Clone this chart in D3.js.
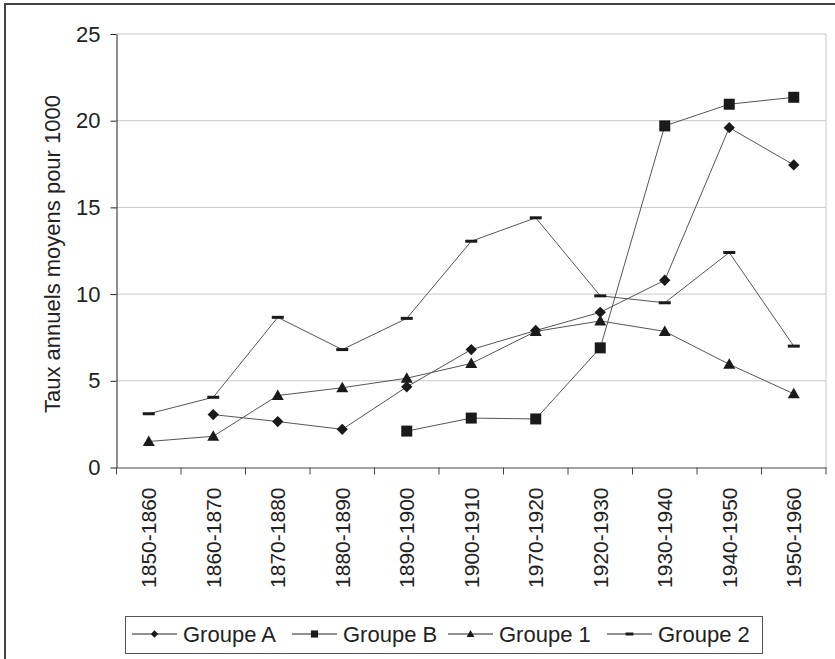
<!DOCTYPE html>
<html lang="fr">
<head>
<meta charset="UTF-8">
<title>Taux annuels moyens</title>
<style>
  body { margin: 0; background: #fff; }
  svg { display: block; font-family: "Liberation Sans", Arial, sans-serif; }
</style>
</head>
<body>
<svg id="chart" width="835" height="659"></svg>
<script src="https://cdn.jsdelivr.net/npm/d3@7"></script>
<script>
  // data
  let periods = ["1850-1860","1860-1870","1870-1880","1880-1890","1890-1900","1900-1910",
                 "1970-1920","1920-1930","1930-1940","1940-1950","1950-1960"];
  let groupeA = [null, 3.05, 2.65, 2.2, 4.65, 6.8, 7.9, 8.95, 10.8, 19.6, 17.45];
  let groupeB = [null, null, null, null, 2.1, 2.85, 2.8, 6.9, 19.7, 20.95, 21.35];
  let groupe1 = [1.5, 1.8, 4.15, 4.6, 5.15, 6.0, 7.85, 8.45, 7.85, 5.95, 4.25];
  let groupe2 = [3.1, 4.05, 8.66, 6.8, 8.6, 13.05, 14.4, 9.9, 9.5, 12.4, 7.0];
  let yTicks = [0, 5, 10, 15, 20, 25];
  let seriesNames = ["Groupe A", "Groupe B", "Groupe 1", "Groupe 2"];

  let series = [
    {name: seriesNames[0], values: groupeA, mark: "diamond"},
    {name: seriesNames[1], values: groupeB, mark: "square"},
    {name: seriesNames[2], values: groupe1, mark: "triangle"},
    {name: seriesNames[3], values: groupe2, mark: "dash"}
  ];

  let svg = d3.select("#chart");
  let plotL = 116.5, plotR = 826, plotT = 34, plotB = 467.5;

  // outer frame (right and bottom edges fall outside the picture)
  svg.append("rect")
    .attr("x", 5).attr("y", 4)
    .attr("width", 900).attr("height", 700)
    .attr("fill", "none").attr("stroke", "#444").attr("stroke-width", 2);

  let x = d3.scaleBand().domain(periods).range([plotL, plotR]);
  let y = d3.scaleLinear().domain([0, 25]).range([plotB, plotT]);

  // grid
  svg.append("g").selectAll("line")
    .data(yTicks.filter(d => d > 0))
    .join("line")
    .attr("x1", plotL).attr("x2", plotR)
    .attr("y1", d => y(d)).attr("y2", d => y(d))
    .attr("stroke", "#c8c8c8").attr("stroke-width", 1);
  svg.append("line")
    .attr("x1", plotR).attr("x2", plotR)
    .attr("y1", plotT).attr("y2", plotB)
    .attr("stroke", "#c8c8c8");

  // axes
  let yaxis = d3.axisLeft(y).tickValues(yTicks).tickSize(6).tickSizeOuter(0).tickPadding(10);
  let gy = svg.append("g").attr("transform", `translate(${plotL},0)`).call(yaxis);
  gy.select(".domain").attr("stroke", "#222");
  gy.selectAll(".tick line").attr("stroke", "#222");
  gy.selectAll("text").attr("font-size", 22).attr("fill", "#222")
    .attr("font-family", "Liberation Sans, Arial, sans-serif");

  let xaxis = d3.axisBottom(x).tickSize(0).tickSizeOuter(0);
  let gx = svg.append("g").attr("transform", `translate(0,${plotB})`).call(xaxis);
  gx.select(".domain").attr("stroke", "#444");
  gx.selectAll("text")
    .attr("font-size", 21).attr("fill", "#222")
    .attr("font-family", "Liberation Sans, Arial, sans-serif")
    .attr("text-anchor", "end")
    .attr("dy", "0.35em")
    .attr("transform", "translate(0,20) rotate(-90)")
    .attr("x", 0).attr("y", 0);
  // ticks on band edges
  gx.selectAll(".edge")
    .data(periods.map(p => x(p)).concat([plotR]))
    .join("line")
    .attr("class", "edge")
    .attr("x1", d => d).attr("x2", d => d)
    .attr("y1", 0).attr("y2", 7)
    .attr("stroke", "#444");

  // y title
  svg.append("text")
    .attr("transform", "translate(60,254) rotate(-90)")
    .attr("text-anchor", "middle")
    .attr("font-size", 22).attr("fill", "#222")
    .text("Taux annuels moyens pour 1000");

  let cx = p => x(p) + x.bandwidth() / 2;

  function drawMark(g, kind, s) {
    if (kind === "square") {
      g.append("rect").attr("x", -5.5 * s).attr("y", -5.5 * s)
        .attr("width", 11 * s).attr("height", 11 * s).attr("fill", "#1a1a1a");
    } else if (kind === "diamond") {
      g.append("path").attr("d", d3.symbol(d3.symbolSquare, 64 * s * s)())
        .attr("transform", "rotate(45)").attr("fill", "#1a1a1a");
    } else if (kind === "triangle") {
      g.append("path").attr("d", `M0,${-6 * s}L${6 * s},${4.5 * s}L${-6 * s},${4.5 * s}Z`)
        .attr("fill", "#1a1a1a");
    } else {
      g.append("rect").attr("x", -6 * s).attr("y", -1.5)
        .attr("width", 12 * s).attr("height", 3).attr("fill", "#1a1a1a");
    }
  }

  let line = d3.line()
    .defined(d => d.v != null)
    .x(d => cx(d.p))
    .y(d => y(d.v));

  series.forEach(s => {
    let pts = periods.map((p, i) => ({p: p, v: s.values[i]}));
    svg.append("path")
      .datum(pts)
      .attr("d", line)
      .attr("fill", "none")
      .attr("stroke", "#555")
      .attr("stroke-width", 1);
    svg.append("g").selectAll("g")
      .data(pts.filter(d => d.v != null))
      .join("g")
      .attr("transform", d => `translate(${cx(d.p)},${y(d.v)})`)
      .each(function() { drawMark(d3.select(this), s.mark, 1); });
  });

  // legend
  let legend = svg.append("g");
  legend.append("rect")
    .attr("x", 125.5).attr("y", 616.5).attr("width", 637).attr("height", 37)
    .attr("fill", "#fff").attr("stroke", "#555");
  let legendX = [132, 292, 448, 607];
  series.forEach((s, i) => {
    let g = legend.append("g").attr("transform", `translate(${legendX[i]},634)`);
    g.append("line").attr("x1", 0).attr("x2", 45).attr("stroke", "#222");
    drawMark(g.append("g").attr("transform", "translate(22.5,0)"), s.mark, 0.65);
    g.append("text").attr("x", 51).attr("y", 0).attr("dy", "0.35em")
      .attr("font-size", 22).attr("fill", "#222").text(s.name);
  });
</script>
</body>
</html>
